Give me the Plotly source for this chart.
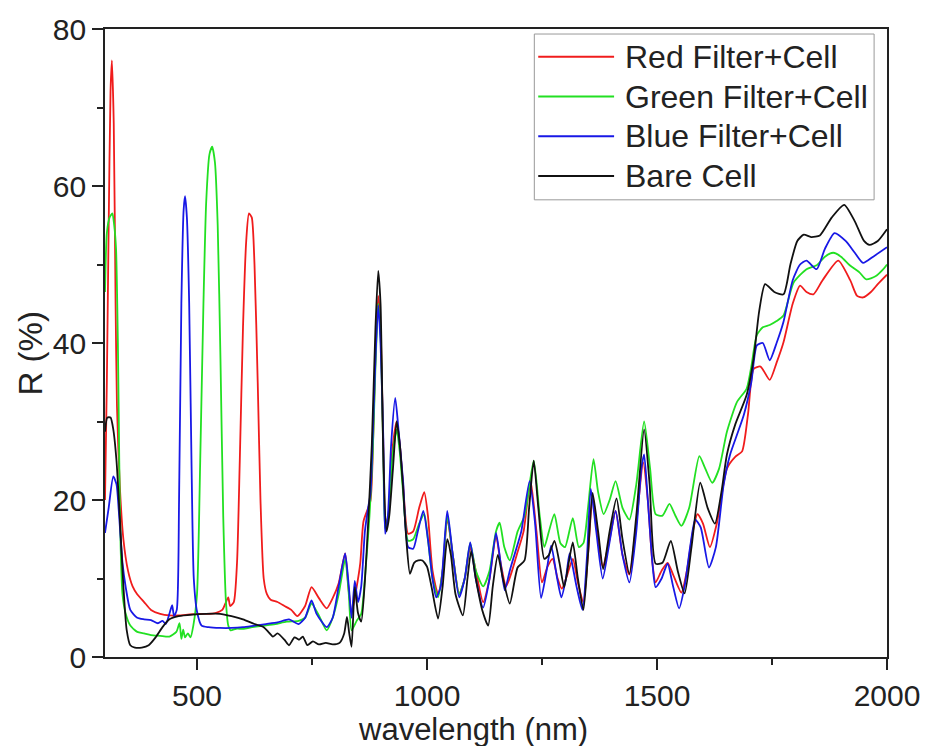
import plotly.graph_objects as go

# ---------------- data ----------------
bare_x = [300,305,312,318,325,332,340,347,355,365,380,395,410,425,440,460,490,520,550,575,600,625,645,655,665,675,690,700,712,722,730,740,752,765,780,795,810,820,826,831,836,843,850,857,865,872,880,888,894,899,905,912,918,926,934,941,948,955,963,972,981,990,1000,1010,1024,1034,1044,1052,1062,1078,1088,1096,1106,1120,1133,1143,1154,1165,1180,1197,1212,1222,1232,1242,1255,1265,1277,1288,1298,1308,1317,1328,1340,1350,1360,1372,1383,1397,1412,1425,1440,1455,1472,1484,1497,1512,1530,1545,1560,1575,1594,1610,1626,1640,1652,1670,1695,1710,1722,1735,1755,1775,1790,1805,1819,1835,1854,1880,1907,1930,1950,1962,1980,2000]
bare_y = [28.7,30.5,30.5,29,25,18,9,3.5,1.5,1.2,1.2,1.5,2.5,3.8,4.8,5.2,5.4,5.5,5.5,5.2,4.8,4.2,3.8,3.2,2.6,3.0,2.2,1.5,2.5,2.2,2.6,1.5,2.0,1.6,1.8,1.6,1.8,3.0,5.1,3.0,1.3,8.9,5.6,4.5,9.7,17,27,42,49.2,45,25.8,16,18,24,30,27,21.5,15,10.6,12,12.3,12.3,11.5,8.9,4.9,9,15,13,8,5.3,10,13.5,10,6,4.0,9,13,10,6.8,11.4,12.3,19,25,19,12.5,13,14.8,12,8.9,12,14.6,10,6.0,13,20.9,16,11.2,16,20.2,15,10.6,18,29,22,11.9,12,14.8,11,8.1,14,22.2,19,17,21,25.8,29.6,33.4,38,44,47.5,46.5,46.2,50,53,53.8,53.5,53.7,56,57.6,55.5,53,52.5,53,54.5]

blue_x = [300,308,318,325,330,338,345,355,370,385,400,415,425,432,440,446,450,456,461,466,471,474,478,483,488,493,500,510,525,550,575,600,625,650,675,700,721,735,749,760,782,795,808,822,830,836,843,850,857,865,872,877,882,888,894,899,905,909,915,922,931,938,948,959,970,980,992,1002,1012,1020,1030,1044,1056,1070,1082,1094,1106,1122,1136,1150,1160,1169,1180,1191,1205,1223,1235,1248,1260,1270,1283,1292,1302,1310,1325,1338,1348,1356,1368,1382,1395,1410,1425,1440,1455,1466,1472,1480,1490,1497,1510,1523,1535,1548,1560,1572,1583,1595,1613,1628,1645,1659,1675,1689,1705,1717,1730,1745,1760,1775,1795,1811,1825,1847,1865,1886,1910,1930,1948,1970,2000]
blue_y = [15.8,19,23,22,18.6,12,8.9,6,5,4.8,4.7,4.3,4.6,4.2,5.5,6.6,5.2,6,20,45,57,58.7,56,45,25,10,5.8,4.0,3.8,3.7,3.7,3.8,4.0,4.2,4.4,4.8,4.2,5,7.2,5.5,3.8,5,9,13.2,9,5,9.7,7,9,16,19,20.8,28,38,44.8,40,27.9,15.7,18,27,33,29,22.4,14,13.8,16,18.6,15,10,7.6,9,18.6,13,7.6,10,14.6,10,6.3,10,15.8,12,8.5,11,13.2,16,22.4,17,7.5,11,14.2,10,7.6,10,13.2,9,6,13,21.4,16,10,14,18.6,13,9.5,16,24,25.8,20,12,8.9,10,11.9,9,6.2,9,14,17.5,16.5,11.4,14,22,25.8,28.5,30.9,35,39.7,40,37.8,40,42.7,48,50,50.5,49.4,52,54,53,51.5,50.2,51,52.2]

red_x = [300,304,308,312,315,319,323,326,332,340,350,360,370,385,400,420,440,460,480,500,520,540,555,563,568,572,580,587,593,600,607,613,619,625,632,638,645,652,660,675,690,705,718,735,749,765,782,795,808,822,829,836,847,855,862,877,883,888,894,899,905,910,916,924,934,941,948,959,970,983,994,1002,1012,1024,1034,1044,1056,1070,1082,1094,1106,1122,1136,1150,1160,1172,1185,1195,1210,1225,1238,1250,1262,1273,1284,1293,1305,1317,1328,1340,1350,1360,1370,1382,1397,1410,1425,1440,1455,1470,1480,1490,1497,1510,1523,1535,1553,1565,1578,1588,1600,1615,1630,1652,1670,1685,1698,1710,1725,1745,1760,1775,1795,1811,1825,1840,1860,1894,1920,1935,1948,1965,1980,2000]
red_y = [20,35,55,72,76,68,45,32,22,15,11,9,8,7,6,5.5,5.3,5.3,5.4,5.5,5.5,5.6,6,7,7.6,6.5,7,12,25,42,53,56.5,56,50,35,20,10,8,7.3,7,6.5,6,5.2,6.5,8.9,7.5,6.2,7.5,9.4,13.2,9,5.6,8.9,12,17.3,19.9,28,38.5,46,42,27,17,18,26,30,27,22,15.7,16,19,21,18,11,8,11,17.7,13,8,10,14,11,7,10,15.5,12,9,11,13,16,22.5,16,9.5,11.5,12.5,10,8.7,10.5,12.5,9.5,7,13,20.5,16,11.5,15,18.6,13,10.5,17,24.8,20,12,9.5,11,12,10.5,8.2,11,16,18.2,17,14,17,24,25.5,26.2,31,36.7,37,35.3,37.5,40.1,45,47.3,46.5,46.2,48,50.5,48,46,45.8,46.5,47.5,48.7]

green_x = [300,304,310,316,320,324,328,331,334,338,345,355,370,385,400,420,440,455,462,466,470,474,480,486,492,500,507,514,520,527,533,539,545,551,557,563,568,573,585,600,620,645,670,695,721,735,749,765,782,795,808,822,830,836,847,857,865,875,882,888,894,899,905,909,916,924,934,941,948,959,970,983,994,1002,1012,1024,1034,1044,1056,1070,1082,1094,1106,1122,1136,1150,1158,1168,1180,1197,1212,1232,1245,1255,1265,1277,1290,1300,1317,1330,1340,1350,1362,1372,1384,1397,1410,1425,1440,1455,1472,1485,1497,1512,1527,1540,1553,1570,1592,1605,1620,1635,1652,1674,1695,1705,1717,1730,1745,1760,1775,1797,1825,1847,1865,1883,1900,1919,1940,1955,1975,1992,2000]
green_y = [46.5,54,56,56.5,55,52,40,25,14,8,5.5,4,3.2,3,2.8,2.7,2.6,3.2,4.3,2.3,3.5,2.5,3,2.5,4,8,25,45,58,64,65,63,55,38,18,7,4,3.4,3.6,3.6,3.8,4.0,4.2,4.5,4.6,5,6.8,5.3,3.4,5,8,12.4,8,3.4,4.6,5.5,10,18,26,37,45,41,26,16.4,18,25,29,26,21,14.8,15,17,18.2,15,10,7.6,11,18,13,8,10,14.5,11,9,11,16,17.1,14,12.3,16,18,25,18,14,16,18.2,14.5,14,17.7,14,14.5,19,25.2,21,18.2,20,22.4,19,17.5,22,30,24,18.2,18,19.5,18,16.7,19,25.6,24,22.2,24,28.7,32.5,34.2,37,41,42,42.3,42.8,43.5,47.7,49.4,49.9,51,51.5,51,49.9,49,48.1,48.5,49.4,50]

series = [
    ("Red Filter+Cell", red_x, red_y, "#f01c1c"),
    ("Green Filter+Cell", green_x, green_y, "#22e022"),
    ("Blue Filter+Cell", blue_x, blue_y, "#1818e6"),
    ("Bare Cell", bare_x, bare_y, "#111111"),
]

x_title = "wavelength (nm)"
y_title = "R (%)"

FONT = "Liberation Sans, Arial, sans-serif"
INK = "#222"

fig = go.Figure()
for name, xs, ys, col in series:
    fig.add_trace(go.Scatter(
        x=xs, y=ys, mode="lines", name=name, showlegend=False,
        line=dict(color=col, width=1.8, shape="spline", smoothing=0.6),
    ))

axis_common = dict(
    showline=True, linecolor=INK, linewidth=1.6, mirror=True,
    ticks="outside", ticklen=11, tickwidth=1.5, tickcolor=INK,
    showgrid=False, zeroline=False,
    tickfont=dict(family=FONT, size=30, color=INK),
)

fig.update_xaxes(
    range=[300, 2000], tick0=0, dtick=500,
    minor=dict(ticks="outside", ticklen=6, tickwidth=1.5, tickcolor=INK, dtick=250, tick0=0),
    **axis_common,
)
fig.update_yaxes(
    range=[0, 80], tick0=0, dtick=20,
    minor=dict(ticks="outside", ticklen=6, tickwidth=1.5, tickcolor=INK, dtick=10, tick0=0),
    **axis_common,
)

fig.add_annotation(text=x_title, xref="paper", yref="paper", x=0.471, y=-0.1155,
                   xanchor="center", yanchor="middle", showarrow=False,
                   font=dict(family=FONT, size=31, color=INK))
fig.add_annotation(text=y_title, xref="paper", yref="paper", x=-0.095, y=0.483,
                   xanchor="center", yanchor="middle", showarrow=False, textangle=-90,
                   font=dict(family=FONT, size=33, color=INK))

# ---- legend box (paper coordinates) ----
LEG_X0, LEG_X1, LEG_Y0, LEG_Y1 = 0.549, 0.9835, 0.728, 0.992
ROW_TOP, ROW_STEP = 0.9557, 0.0633
LINE_X0, LINE_X1, TEXT_X = 0.554, 0.651, 0.662
fig.add_shape(type="rect", xref="paper", yref="paper",
              x0=LEG_X0, x1=LEG_X1, y0=LEG_Y0, y1=LEG_Y1,
              line=dict(color="#999", width=1), fillcolor="white", layer="above")
for i, (name, _, _, col) in enumerate(series):
    yy = ROW_TOP - i * ROW_STEP
    fig.add_shape(type="line", xref="paper", yref="paper",
                  x0=LINE_X0, x1=LINE_X1, y0=yy, y1=yy,
                  line=dict(color=col, width=2), layer="above")
    fig.add_annotation(text=name, xref="paper", yref="paper", x=TEXT_X, y=yy,
                       xanchor="left", yanchor="middle", showarrow=False,
                       font=dict(family=FONT, size=32, color=INK))

fig.update_layout(
    width=932, height=746,
    margin=dict(l=105, r=40, t=25, b=89),
    paper_bgcolor="white", plot_bgcolor="white",
    showlegend=False,
)

fig.write_html("out.html")
